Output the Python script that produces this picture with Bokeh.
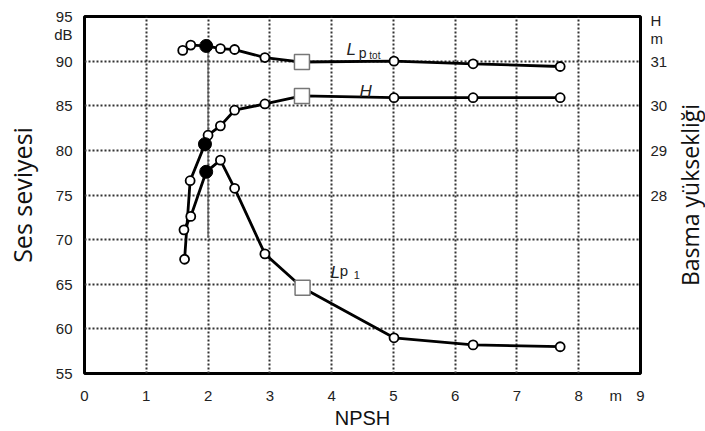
from bokeh.plotting import figure
from bokeh.layouts import row
from bokeh.models import Range1d, LinearAxis, FixedTicker, Label
from bokeh.embed import file_html
from bokeh.resources import INLINE

# ---- data ----
npsh_tot = [1.59, 1.72, 1.97, 2.20, 2.43, 2.92, 3.52, 5.01, 6.29, 7.70]
lp_tot = [91.2, 91.8, 91.7, 91.4, 91.3, 90.4, 89.9, 90.0, 89.7, 89.4]

npsh_h = [1.62, 1.71, 1.95, 2.00, 2.20, 2.43, 2.92, 3.52, 5.01, 6.29, 7.70]
head_m = [26.56, 28.32, 29.14, 29.34, 29.55, 29.90, 30.04, 30.22, 30.18, 30.18, 30.18]

npsh_p1 = [1.61, 1.72, 1.97, 2.20, 2.43, 2.92, 3.53, 5.01, 6.29, 7.70]
lp_1 = [71.1, 72.6, 77.6, 78.9, 75.75, 68.4, 64.6, 59.0, 58.2, 58.0]

filled_tot, square_tot = 2, 6
filled_h, square_h = 2, 7
filled_p1, square_p1 = 2, 6

marker_x = 2.0
marker_line_y = [91.7, 70.2]

x_ticks = [0, 1, 2, 3, 4, 5, 6, 7, 8, 8.6, 9]
x_labels = {8.6: "m"}
y_ticks = [55, 60, 65, 70, 75, 80, 85, 90, 93, 95]
y_labels = {93: "dB"}
h_ticks = [28, 29, 30, 31, 31.5, 31.9]
h_labels = {31.5: "m", 31.9: "H"}

FONT = "Liberation Sans"

p = figure(width=670, height=431, output_backend="svg", toolbar_location=None,
           x_range=Range1d(0, 9), y_range=Range1d(55, 95),
           min_border_left=84, min_border_right=27, min_border_top=16, min_border_bottom=58)
p.extra_y_ranges = {"h": Range1d(24, 32)}

p.outline_line_color = "black"
p.outline_line_width = 3
p.outline_line_alpha = 1

# axes
p.xaxis.ticker = FixedTicker(ticks=x_ticks)
p.xaxis.major_label_overrides = x_labels
p.yaxis.ticker = FixedTicker(ticks=y_ticks)
p.yaxis.major_label_overrides = y_labels
for ax in [p.xaxis[0], p.yaxis[0]]:
    ax.axis_line_color = None
    ax.major_tick_line_color = None
    ax.minor_tick_line_color = None
    ax.major_label_text_font = FONT
    ax.major_label_text_font_size = "15px"
    ax.major_label_text_color = "#222222"
    ax.axis_label_text_font_style = "normal"
    ax.axis_label_text_color = "#111111"
p.xaxis.major_label_standoff = 7
p.yaxis.major_label_standoff = 6
p.xaxis.axis_label = "NPSH"
p.xaxis.axis_label_text_font = FONT
p.xaxis.axis_label_text_font_size = "20px"
p.xaxis.axis_label_standoff = 0
p.yaxis.axis_label = "Ses seviyesi"
p.yaxis.axis_label_text_font = "Open Sans"
p.yaxis.axis_label_text_font_size = "25px"
p.yaxis.axis_label_standoff = 12

rax = LinearAxis(y_range_name="h", ticker=FixedTicker(ticks=h_ticks))
rax.major_label_overrides = h_labels
rax.axis_line_color = None
rax.major_tick_line_color = None
rax.minor_tick_line_color = None
rax.major_label_text_font = FONT
rax.major_label_text_font_size = "15px"
rax.major_label_text_color = "#222222"
rax.major_label_standoff = 4
p.add_layout(rax, "right")

# grid
p.xgrid.ticker = FixedTicker(ticks=[1, 2, 3, 4, 5, 6, 7, 8])
p.ygrid.ticker = FixedTicker(ticks=[60, 65, 70, 75, 80, 85, 90])
for g in [p.xgrid[0], p.ygrid[0]]:
    g.grid_line_color = "#333333"
    g.grid_line_dash = "2 2"
    g.grid_line_width = 2

# vertical marker line
p.line([marker_x, marker_x], marker_line_y, line_color="#555555", line_width=1.2)


def draw(xs, ys, fi, si, yrn="default"):
    kw = {} if yrn == "default" else {"y_range_name": yrn}
    p.line(xs, ys, line_color="black", line_width=2.8, **kw)
    ox = [x for i, x in enumerate(xs) if i not in (fi, si)]
    oy = [y for i, y in enumerate(ys) if i not in (fi, si)]
    p.scatter(ox, oy, marker="circle", size=9, fill_color="white",
              line_color="black", line_width=1.8, **kw)
    p.scatter([xs[fi]], [ys[fi]], marker="circle", size=13, fill_color="black",
              line_color="black", **kw)
    p.scatter([xs[si]], [ys[si]], marker="square", size=15, fill_color="white",
              line_color="#777777", line_width=1.5, **kw)


draw(npsh_tot, lp_tot, filled_tot, square_tot)
draw(npsh_h, head_m, filled_h, square_h, "h")
draw(npsh_p1, lp_1, filled_p1, square_p1)

# curve labels
def lab(x, y, t, size, style="normal"):
    p.add_layout(Label(x=x, y=y, text=t, text_font=FONT, text_font_size=size,
                       text_font_style=style, text_color="#222222",
                       text_baseline="alphabetic"))

lab(4.24, 91.3, "L", "17px", "italic")
lab(4.44, 90.95, "p", "14px")
lab(4.61, 90.6, "tot", "10px")
lab(4.45, 86.6, "H", "17px", "italic")
lab(3.98, 66.35, "L", "17px", "italic")
lab(4.13, 66.5, "p", "15px")
lab(4.36, 66.0, "1", "11px")

# narrow companion panel carrying the right-hand axis title (reads bottom-to-top)
p2 = figure(width=35, height=431, output_backend="svg", toolbar_location=None,
            x_range=Range1d(0, 1), y_range=Range1d(0, 1),
            min_border_left=34, min_border_right=0, min_border_top=16, min_border_bottom=58)
p2.outline_line_color = None
p2.xaxis.visible = False
p2.xgrid.visible = False
p2.ygrid.visible = False
p2.yaxis.ticker = FixedTicker(ticks=[])
p2.yaxis.axis_line_color = None
p2.yaxis.major_tick_line_color = None
p2.yaxis.minor_tick_line_color = None
p2.yaxis.axis_label = "Basma yüksekliği"
p2.yaxis.axis_label_text_font = "Open Sans"
p2.yaxis.axis_label_text_font_size = "23px"
p2.yaxis.axis_label_text_font_style = "normal"
p2.yaxis.axis_label_text_color = "#111111"
p2.yaxis.axis_label_standoff = 0

open("out.html", "w").write(file_html(row(p, p2), INLINE))
